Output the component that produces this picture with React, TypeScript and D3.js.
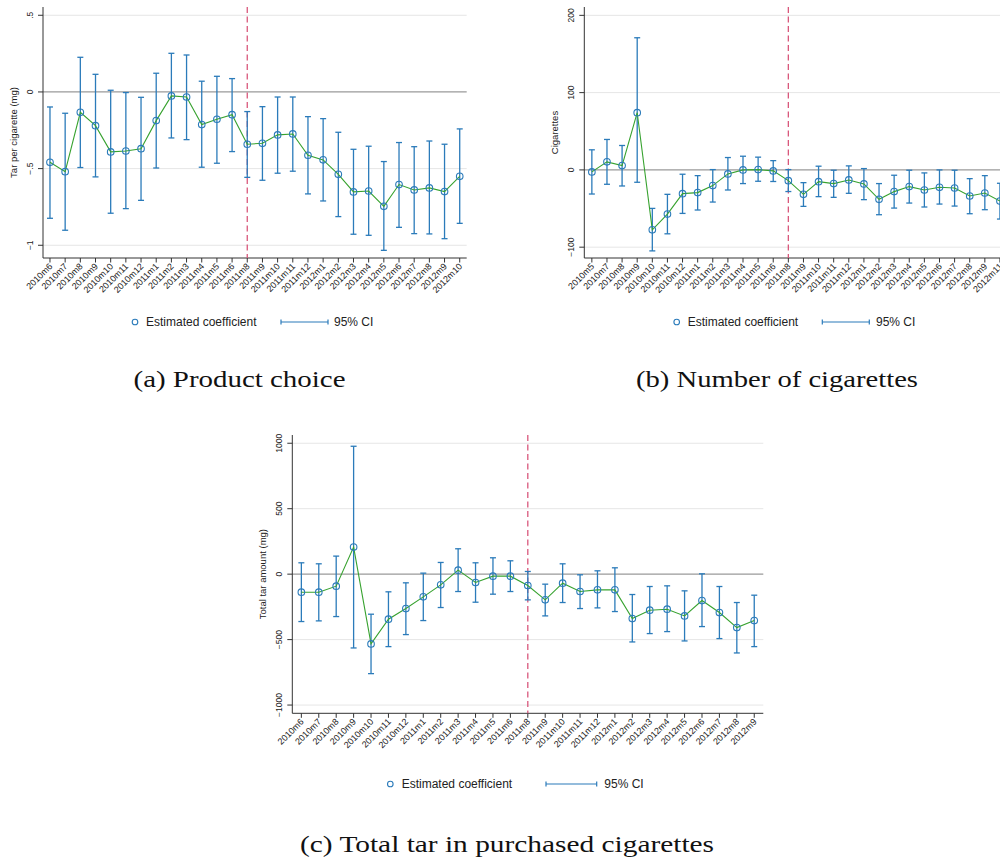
import React from 'react';
import * as d3 from 'd3';

// ---------------- Data ----------------
const labelsA = ['2010m6','2010m7','2010m8','2010m9','2010m10','2010m11','2010m12','2011m1','2011m2','2011m3','2011m4','2011m5','2011m6','2011m8','2011m9','2011m10','2011m11','2011m12','2012m1','2012m2','2012m3','2012m4','2012m5','2012m6','2012m7','2012m8','2012m9','2012m10'];
const coefA = [-0.459,-0.52,-0.133,-0.22,-0.391,-0.385,-0.37,-0.187,-0.026,-0.033,-0.213,-0.178,-0.148,-0.341,-0.335,-0.28,-0.274,-0.413,-0.443,-0.537,-0.652,-0.646,-0.746,-0.604,-0.639,-0.626,-0.65,-0.55];
const upperA = [-0.098,-0.139,0.226,0.115,0.011,-0.004,-0.035,0.122,0.252,0.241,0.07,0.102,0.087,-0.128,-0.096,-0.033,-0.033,-0.161,-0.174,-0.263,-0.374,-0.354,-0.454,-0.33,-0.357,-0.32,-0.341,-0.241];
const lowerA = [-0.824,-0.902,-0.493,-0.554,-0.791,-0.761,-0.707,-0.496,-0.3,-0.311,-0.491,-0.465,-0.389,-0.557,-0.576,-0.53,-0.517,-0.665,-0.711,-0.813,-0.928,-0.935,-1.033,-0.883,-0.924,-0.926,-0.957,-0.857];
const ticksA = [0.5, 0, -0.5, -1];
const tickLabelsA = ['.5', '0', '\u2212.5', '\u22121'];

const labelsB = ['2010m5','2010m7','2010m8','2010m9','2010m10','2010m11','2010m12','2011m1','2011m2','2011m3','2011m4','2011m5','2011m6','2011m8','2011m9','2011m10','2011m11','2011m12','2012m1','2012m2','2012m3','2012m4','2012m5','2012m6','2012m7','2012m8','2012m9','2012m11'];
const coefB = [-2.6,10.4,5.6,74,-77.5,-57.1,-30.7,-29.4,-20.3,-5.2,0,0.4,-1.3,-13.9,-31.6,-15.2,-17.7,-13,-18.2,-38.1,-28.1,-21.6,-26,-22.5,-23.4,-33.8,-29.9,-40.3];
const upperB = [26,39.4,31.6,171,-49.8,-31.6,-5.6,-7.4,0.4,16,17.7,16.5,12,0.4,-16.5,4.8,-0.4,5.2,1.7,-17.7,-6.9,-0.4,-3.9,0,-0.4,-11.3,-7.4,-17.3];
const lowerB = [-31.2,-18.6,-20.8,-16,-104.8,-82.7,-56.3,-51.9,-41.6,-26,-17.7,-14.7,-15,-28,-47.2,-34.6,-35.5,-30.3,-38.5,-58,-49.4,-42.9,-48,-44.2,-46.8,-56.7,-51.5,-63.6];
const ticksB = [200, 100, 0, -100];
const tickLabelsB = ['200', '100', '0', '\u2212100'];

const labelsC = ['2010m6','2010m7','2010m8','2010m9','2010m10','2010m11','2010m12','2011m1','2011m2','2011m3','2011m4','2011m5','2011m6','2011m8','2011m9','2011m10','2011m11','2011m12','2012m1','2012m2','2012m3','2012m4','2012m5','2012m6','2012m7','2012m8','2012m9'];
const coefC = [-137.8,-137.8,-91.8,206.6,-533,-344,-262.8,-173.5,-81.6,30.6,-63.8,-15.3,-15.3,-86.7,-196.4,-68.9,-132.7,-119.9,-119.9,-339.3,-275.5,-267.9,-318.9,-201.5,-293.4,-408.2,-354.6];
const upperC = [86.7,79,137.8,977,-306,-135,-66.3,7.7,89.3,193.9,86.7,125,102,20.4,-76.5,79,-5.1,25.5,48.5,-155.6,-94.4,-89.3,-127.5,2.6,-94.4,-216.8,-160.7];
const lowerC = [-362,-357,-324,-563.8,-760,-553.6,-461.7,-354.6,-255,-132.7,-214.3,-153,-132.7,-196.4,-318.9,-216.8,-262.8,-257.7,-285.7,-517.9,-454,-438.8,-510.2,-400.5,-492.3,-602,-553.6];
const ticksC = [1000, 500, 0, -500, -1000];
const tickLabelsC = ['1000', '500', '0', '\u2212500', '\u22121000'];

const cutLabel = '2011m8';
const legendCoefText = 'Estimated coefficient';
const legendCIText = '95% CI';

// ---------------- Styles ----------------
const SANS = "'Liberation Sans', Arial, Helvetica, sans-serif";
const SERIF = "'Liberation Serif', 'Times New Roman', serif";
const BLUE = '#2b7bba';
const GREEN = '#37a22f';
const PINK = '#d9587c';

type PanelProps = {
  labels: string[];
  coef: number[];
  lower: number[];
  upper: number[];
  ticks: number[];
  tickLabels: string[];
  yDomain: [number, number];
  left: number;
  right: number;
  top: number;
  bottom: number;
  pad: number;
  yTitle: string;
  legend: { y: number; circle: number; text: number; ci0: number; ci1: number; ciText: number };
};

function Panel(p: PanelProps) {
  const x = d3.scalePoint<string>().domain(p.labels).range([p.left, p.right]).padding(p.pad);
  const y = d3.scaleLinear().domain(p.yDomain).range([p.bottom, p.top]);
  const line = d3
    .line<number>()
    .x((_, i) => x(p.labels[i]) as number)
    .y((d) => y(d));
  const cx = x(cutLabel) as number;
  const midY = (p.top + p.bottom) / 2;
  const capW = 3;
  return (
    <g>
      {p.ticks.map((t) => (
        <line
          key={'g' + t}
          x1={p.left}
          x2={p.right}
          y1={y(t)}
          y2={y(t)}
          stroke={t === 0 ? '#9a9a9a' : '#e6e6e6'}
          strokeWidth={t === 0 ? 1.3 : 1}
        />
      ))}
      <line x1={p.left} x2={p.left} y1={p.top} y2={p.bottom} stroke="#333" strokeWidth={1} />
      <line x1={p.left} x2={p.right} y1={p.bottom} y2={p.bottom} stroke="#333" strokeWidth={1} />
      {p.ticks.map((t, i) => (
        <g key={'yt' + t}>
          <line x1={p.left - 5} x2={p.left} y1={y(t)} y2={y(t)} stroke="#333" strokeWidth={1} />
          <text
            transform={`translate(${p.left - 10},${y(t)}) rotate(-90)`}
            textAnchor="middle"
            fontFamily={SANS}
            fontSize={8.5}
            fill="#222"
          >
            {p.tickLabels[i]}
          </text>
        </g>
      ))}
      <text
        transform={`translate(${p.left - 26},${midY}) rotate(-90)`}
        textAnchor="middle"
        fontFamily={SANS}
        fontSize={9.5}
        fill="#222"
      >
        {p.yTitle}
      </text>
      {p.labels.map((l) => {
        const xx = x(l) as number;
        return (
          <g key={'xt' + l}>
            <line x1={xx} x2={xx} y1={p.bottom} y2={p.bottom + 4.5} stroke="#333" strokeWidth={1} />
            <text
              transform={`translate(${xx + 3},${p.bottom + 9}) rotate(-45)`}
              textAnchor="end"
              fontFamily={SANS}
              fontSize={9}
              fill="#222"
            >
              {l}
            </text>
          </g>
        );
      })}
      <line x1={cx} x2={cx} y1={p.top} y2={p.bottom} stroke={PINK} strokeWidth={1.3} strokeDasharray="6,3.5" />
      {p.labels.map((l, i) => {
        const xx = x(l) as number;
        return (
          <g key={'e' + l} stroke={BLUE} strokeWidth={1.3}>
            <line x1={xx} x2={xx} y1={y(p.lower[i])} y2={y(p.upper[i])} />
            <line x1={xx - capW} x2={xx + capW} y1={y(p.lower[i])} y2={y(p.lower[i])} />
            <line x1={xx - capW} x2={xx + capW} y1={y(p.upper[i])} y2={y(p.upper[i])} />
          </g>
        );
      })}
      <path d={line(p.coef) || ''} fill="none" stroke={GREEN} strokeWidth={1.1} />
      {p.labels.map((l, i) => (
        <circle key={'c' + l} cx={x(l) as number} cy={y(p.coef[i])} r={3.3} fill="none" stroke={BLUE} strokeWidth={1.1} />
      ))}
      <circle cx={p.legend.circle} cy={p.legend.y} r={2.8} fill="none" stroke={BLUE} strokeWidth={1.1} />
      <text x={p.legend.text} y={p.legend.y + 4.2} fontFamily={SANS} fontSize={12} fill="#222">
        {legendCoefText}
      </text>
      <g stroke={BLUE} strokeWidth={1.2}>
        <line x1={p.legend.ci0} x2={p.legend.ci1} y1={p.legend.y} y2={p.legend.y} />
        <line x1={p.legend.ci0} x2={p.legend.ci0} y1={p.legend.y - 2.5} y2={p.legend.y + 2.5} />
        <line x1={p.legend.ci1} x2={p.legend.ci1} y1={p.legend.y - 2.5} y2={p.legend.y + 2.5} />
      </g>
      <text x={p.legend.ciText} y={p.legend.y + 4.2} fontFamily={SANS} fontSize={12} fill="#222">
        {legendCIText}
      </text>
    </g>
  );
}

function Caption({ x, y, w, children }: { x: number; y: number; w: number; children: string }) {
  return (
    <text
      x={x - w / 2}
      y={y}
      fontFamily={SERIF}
      fontSize={23}
      fill="#111"
      textLength={w}
      lengthAdjust="spacingAndGlyphs"
    >
      {children}
    </text>
  );
}

export default function App() {
  return (
    <svg
      width={1000}
      height={860}
      viewBox="0 0 1000 860"
      style={{ position: 'absolute', left: 0, top: 0, background: '#fff' }}
    >
      <rect x={0} y={0} width={1000} height={860} fill="#fff" />
      <Panel
        labels={labelsA}
        coef={coefA}
        lower={lowerA}
        upper={upperA}
        ticks={ticksA}
        tickLabels={tickLabelsA}
        yDomain={[-1.083, 0.554]}
        left={43}
        right={466.7}
        top={7}
        bottom={258}
        pad={0.46}
        yTitle="Tar per cigarette (mg)"
        legend={{ y: 322, circle: 135, text: 146, ci0: 281, ci1: 328, ciText: 334 }}
      />
      <Panel
        labels={labelsB}
        coef={coefB}
        lower={lowerB}
        upper={upperB}
        ticks={ticksB}
        tickLabels={tickLabelsB}
        yDomain={[-114, 210.8]}
        left={584.3}
        right={1007.5}
        top={7}
        bottom={258}
        pad={0.5}
        yTitle="Cigarettes"
        legend={{ y: 322, circle: 676.7, text: 687.7, ci0: 822.3, ci1: 869.3, ciText: 876 }}
      />
      <Panel
        labels={labelsC}
        coef={coefC}
        lower={lowerC}
        upper={upperC}
        ticks={ticksC}
        tickLabels={tickLabelsC}
        yDomain={[-1063, 1063]}
        left={292.3}
        right={763.3}
        top={435}
        bottom={713.3}
        pad={0.52}
        yTitle="Total tar amount (mg)"
        legend={{ y: 784, circle: 390.3, text: 401.7, ci0: 546, ci1: 596.7, ciText: 604.3 }}
      />
      <Caption x={239.5} y={387} w={212}>(a) Product choice</Caption>
      <Caption x={777} y={387} w={282}>(b) Number of cigarettes</Caption>
      <Caption x={507} y={852} w={414}>(c) Total tar in purchased cigarettes</Caption>
    </svg>
  );
}
